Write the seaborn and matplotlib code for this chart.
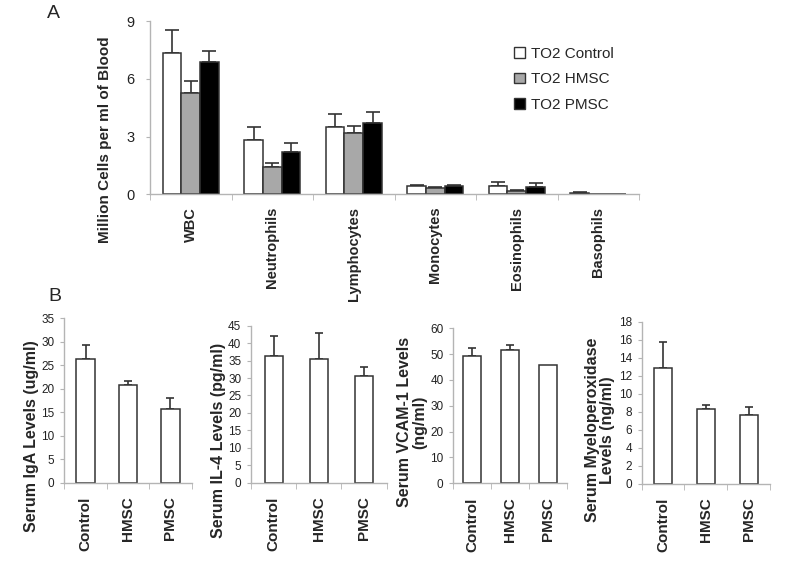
import matplotlib
matplotlib.use("Agg")
import matplotlib.pyplot as plt
import matplotlib.patches as mpatches
import seaborn as sns
import pandas as pd

# Panel A: blood cell counts (million cells per ml)
cell_types = ["WBC", "Neutrophils", "Lymphocytes", "Monocytes", "Eosinophils", "Basophils"]
group_names = ["TO2 Control", "TO2 HMSC", "TO2 PMSC"]
control_mean = [7.33, 2.80, 3.49, 0.43, 0.45, 0.08]
control_err = [1.22, 0.70, 0.69, 0.07, 0.21, 0.05]
hmsc_mean = [5.24, 1.43, 3.16, 0.33, 0.17, 0.04]
hmsc_err = [0.63, 0.21, 0.39, 0.05, 0.03, 0.0]
pmsc_mean = [6.88, 2.20, 3.69, 0.42, 0.40, 0.04]
pmsc_err = [0.56, 0.47, 0.56, 0.08, 0.19, 0.0]

# Panel B: serum levels
treatments = ["Control", "HMSC", "PMSC"]
iga = [26.3, 20.7, 15.7]
iga_err = [3.0, 1.0, 2.4]
il4 = [36.3, 35.5, 30.5]
il4_err = [5.8, 7.3, 2.7]
vcam = [49.2, 51.4, 45.9]
vcam_err = [3.3, 2.0, 0.0]
mpo = [12.9, 8.26, 7.67]
mpo_err = [2.8, 0.48, 0.81]

sns.set_style("white")
plt.rcParams["font.family"] = ["Liberation Sans", "DejaVu Sans"]

EDGE = "#333333"
AXIS = "#b4b4b4"
colors = ["white", "#a8a8a8", "black"]

fig = plt.figure(figsize=(8, 5.87), dpi=100)


def style_axis(ax, ymax, step, ncat, tick_fs, cat_fs, cat_pad, ypad):
    ax.set_ylim(0, ymax)
    ax.set_yticks(range(0, ymax + 1, step))
    ax.set_xlim(-0.5, ncat - 0.5)
    for s in ["top", "right"]:
        ax.spines[s].set_visible(False)
    for s in ["left", "bottom"]:
        ax.spines[s].set_color(AXIS)
        ax.spines[s].set_linewidth(1.0)
    # category boundary ticks, Excel style
    ax.set_xticks([i - 0.5 for i in range(ncat + 1)], minor=True)
    ax.tick_params(axis="x", which="major", length=0, pad=cat_pad)
    ax.tick_params(axis="x", which="minor", length=4, color=AXIS, direction="out", bottom=True)
    ax.tick_params(axis="y", length=3, color=AXIS, direction="out", left=True,
                   labelsize=tick_fs, labelcolor="#222222", pad=ypad)
    for lab in ax.get_xticklabels():
        lab.set_rotation(90)
        lab.set_fontweight("bold")
        lab.set_fontsize(cat_fs)
    ax.set_xlabel("")


def add_errors(ax, means_list, errs_list, capsize):
    # upper-only error bars on top of each drawn bar
    for cont, means, errs in zip(ax.containers, means_list, errs_list):
        for bar, m, e in zip(cont, means, errs):
            if e <= 0:
                continue
            xc = bar.get_x() + bar.get_width() / 2
            ax.errorbar(xc, m, yerr=[[0], [e]], fmt="none", ecolor=EDGE,
                        elinewidth=1.2, capsize=capsize, capthick=1.2, zorder=1)


# ---- Panel A ----
axA = fig.add_axes([0.1875, 0.669, 0.6113, 0.2952])
df = pd.DataFrame({
    "cell": cell_types * 3,
    "group": [g for g in group_names for _ in cell_types],
    "value": control_mean + hmsc_mean + pmsc_mean,
})
sns.barplot(data=df, x="cell", y="value", hue="group", palette=colors, width=0.69,
            edgecolor=EDGE, linewidth=1.1, errorbar=None, legend=False, ax=axA, zorder=2)
add_errors(axA, [control_mean, hmsc_mean, pmsc_mean],
           [control_err, hmsc_err, pmsc_err], capsize=5)
style_axis(axA, 9, 3, len(cell_types), tick_fs=10.5, cat_fs=10.5, cat_pad=9, ypad=8)
axA.set_ylabel("Million Cells per ml of Blood", fontsize=11, fontweight="bold")
axA.yaxis.set_label_coords(-0.092, 0.313)
axA.yaxis.label.set_va("center")

handles = [mpatches.Patch(facecolor=c, edgecolor=EDGE, linewidth=1.0) for c in colors]
fig.legend(handles, group_names, loc="upper left", bbox_to_anchor=(0.6425, 0.92),
           frameon=False, fontsize=11, handlelength=0.7, handleheight=0.7,
           handletextpad=0.4, labelspacing=0.75, borderpad=0, borderaxespad=0)

# ---- Panel B ----
panels = [
    ([0.0804, 0.1777, 0.159, 0.2801], iga, iga_err, 35, 5,
     "Serum IgA Levels (ug/ml)", (-0.261, 0.284), 0.44),
    ([0.3138, 0.1777, 0.1696, 0.2675], il4, il4_err, 45, 5,
     "Serum IL-4 Levels (pg/ml)", (-0.243, 0.266), 0.40),
    ([0.5666, 0.1767, 0.1418, 0.2641], vcam, vcam_err, 60, 10,
     "Serum VCAM-1 Levels\n(ng/ml)", (-0.364, 0.395), 0.46),
    ([0.8021, 0.1760, 0.1604, 0.2760], mpo, mpo_err, 18, 2,
     "Serum Myeloperoxidase\nLevels (ng/ml)", (-0.325, 0.331), 0.42),
]
for rect, vals, errs, ymax, step, label, lc, w in panels:
    ax = fig.add_axes(rect)
    sns.barplot(x=treatments, y=vals, color="white", width=w, edgecolor=EDGE,
                linewidth=1.1, errorbar=None, ax=ax, zorder=2)
    add_errors(ax, [vals], [errs], capsize=3.2)
    style_axis(ax, ymax, step, len(treatments), tick_fs=8.5, cat_fs=11, cat_pad=10, ypad=4)
    ax.set_ylabel(label, fontsize=11.5, fontweight="bold", linespacing=1.05)
    ax.yaxis.set_label_coords(*lc)
    ax.yaxis.label.set_va("center")

fig.text(53 / 800, 1 - 14 / 587, "A", fontsize=14, ha="center", va="center")
fig.text(55 / 800, 1 - 297 / 587, "B", fontsize=14, ha="center", va="center")

fig.savefig("out.png", dpi=100)
